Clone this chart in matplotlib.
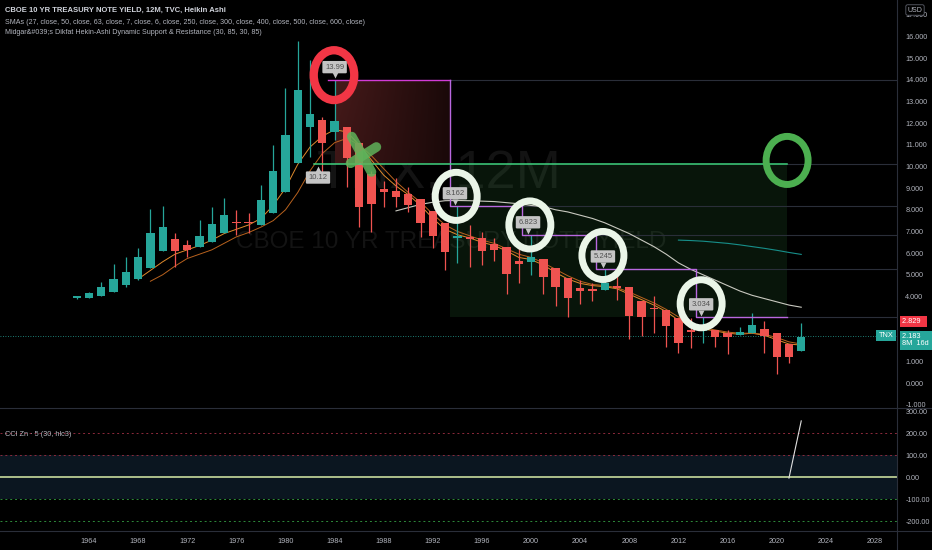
import matplotlib
matplotlib.use('Agg')
import matplotlib.pyplot as plt
from matplotlib.patches import Ellipse
from matplotlib.colors import LinearSegmentedColormap
import matplotlib.transforms as mtransforms
import numpy as np

plt.rcParams['font.family'] = ['Liberation Sans', 'DejaVu Sans']

# yearly Heikin Ashi candles (TNX, 12M)
years = list(range(1963, 2023))
opens = [3.93, 3.94, 4.02, 4.20, 4.51, 4.80, 5.31, 6.11, 6.67, 6.39,
         6.27, 6.51, 6.91, 7.38, 7.38, 7.30, 7.87, 8.84, 10.18, 11.84,
         12.15, 11.61, 11.84, 11.10, 9.65, 8.94, 8.88, 8.73, 8.49, 7.94,
         7.38, 6.71, 6.73, 6.68, 6.42, 6.30, 5.64, 5.59, 5.71, 5.30,
         4.86, 4.40, 4.33, 4.30, 4.48, 4.42, 3.79, 3.40, 3.37, 2.99,
         2.45, 2.40, 2.45, 2.29, 2.20, 2.29, 2.48, 2.32, 1.79, 1.49]
closes = [3.96, 4.16, 4.42, 4.80, 5.14, 5.80, 6.93, 7.19, 6.11, 6.14,
          6.79, 7.34, 7.75, 7.32, 7.32, 8.45, 9.81, 11.45, 13.53, 12.42,
          11.07, 12.12, 10.38, 8.14, 8.27, 8.84, 8.58, 8.22, 7.38, 6.79,
          6.04, 6.79, 6.64, 6.11, 6.14, 5.03, 5.50, 5.83, 4.88, 4.42,
          3.94, 4.25, 4.24, 4.63, 4.40, 3.11, 3.03, 3.33, 2.63, 1.83,
          2.37, 2.49, 2.11, 2.11, 2.36, 2.68, 2.17, 1.21, 1.21, 2.14]
highs = [4.00, 4.20, 4.68, 5.50, 5.83, 6.22, 8.04, 8.19, 6.91, 6.59,
         7.53, 8.13, 8.56, 7.99, 7.85, 9.15, 11.00, 13.61, 15.80, 14.92,
         12.30, 13.99, 11.84, 11.10, 9.80, 9.35, 9.46, 9.07, 8.49, 7.94,
         7.38, 8.162, 7.30, 6.99, 6.70, 6.30, 6.40, 6.823, 5.71, 5.30,
         4.86, 4.75, 4.60, 5.245, 5.14, 4.42, 3.79, 4.00, 3.37, 2.99,
         3.00, 3.034, 2.45, 2.45, 2.57, 3.22, 2.85, 2.32, 1.79, 2.79]
lows = [3.88, 3.94, 4.02, 4.20, 4.42, 4.76, 5.31, 6.11, 5.37, 5.83,
        6.27, 6.51, 6.91, 6.84, 6.93, 7.30, 7.87, 8.84, 10.18, 10.45,
        9.53, 11.22, 9.07, 7.22, 6.99, 8.14, 8.14, 7.91, 6.73, 6.22,
        5.22, 5.53, 5.34, 5.45, 5.65, 4.11, 4.60, 4.99, 4.11, 3.56,
        3.06, 3.65, 3.80, 4.30, 3.83, 2.02, 2.17, 2.32, 1.68, 1.40,
        1.60, 1.86, 1.65, 1.34, 2.20, 2.29, 1.40, 0.42, 0.91, 1.49]

# moving averages
sma6_years = list(range(1968, 2023))
sma6 = [4.8, 5.2, 5.6, 5.95, 6.15, 6.35, 6.6, 6.9, 7.1, 7.3,
        7.6, 8.2, 9.0, 10.1, 10.9, 11.4, 11.7, 11.6, 11.0, 10.3,
        9.6, 9.1, 8.7, 8.2, 7.6, 7.1, 6.85, 6.7, 6.5, 6.35,
        6.1, 5.8, 5.7, 5.45, 5.1, 4.8, 4.6, 4.5, 4.45, 4.35,
        4.1, 3.85, 3.6, 3.3, 2.9, 2.65, 2.5, 2.4, 2.3, 2.25,
        2.3, 2.2, 2.0, 1.8, 1.75]
sma7_years = list(range(1969, 2023))
sma7 = [4.7, 5.0, 5.4, 5.75, 5.95, 6.15, 6.45, 6.75, 6.95, 7.2,
        7.5, 8.0, 8.8, 9.8, 10.6, 11.1, 11.3, 11.0, 10.5, 9.9,
        9.3, 8.8, 8.35, 7.8, 7.3, 7.0, 6.8, 6.6, 6.45, 6.2,
        5.95, 5.8, 5.55, 5.25, 4.95, 4.7, 4.55, 4.5, 4.4, 4.2,
        3.95, 3.7, 3.4, 3.05, 2.75, 2.55, 2.45, 2.35, 2.3, 2.3,
        2.25, 2.1, 1.9, 1.8]
sma27_years = list(range(1989, 2023))
sma27 = [7.95, 8.1, 8.25, 8.35, 8.42, 8.43, 8.42, 8.4, 8.38, 8.33,
         8.28, 8.2, 8.15, 8.0, 7.9, 7.75, 7.6, 7.4, 7.15, 6.9,
         6.6, 6.3, 5.95, 5.55, 5.25, 5.0, 4.75, 4.5, 4.25, 4.05,
         3.9, 3.75, 3.6, 3.5]
sma50_years = list(range(2012, 2023))
sma50 = [6.6, 6.58, 6.55, 6.5, 6.45, 6.38, 6.3, 6.22, 6.13, 6.03, 5.94]

# dynamic support / resistance levels
res_level = 13.99
sup_level = 10.12
res_start = 1983.5
step_x = [1993.4, 1999.3, 2005.3, 2013.4, 2020.8]
step_levels = [8.162, 6.823, 5.245, 3.034]
level_labels = ['13.99', '8.162', '6.823', '5.245', '3.034']
label_x = [1984.0, 1993.8, 1999.75, 2005.85, 2013.85]
label_levels = [13.99, 8.162, 6.823, 5.245, 3.034]
sup_label_x = 1982.65

# hand-drawn rings
ring_x = [1993.9, 1999.9, 2005.85, 2013.85]
ring_y = [8.62, 7.30, 5.89, 3.66]
red_ring = (1983.95, 14.22)
green_ring = (2020.85, 10.28)

last_price = 2.183
prev_close = 2.829

cci_years = [2021, 2022]
cci_values = [-5, 255]

year_ticks = list(range(1964, 2029, 4))
price_ticks = [-1, 0, 1, 3, 4, 5, 6, 7, 8, 9, 10, 11, 12, 13, 14, 15, 16, 17]
cci_ticks = [300, 200, 100, 0, -100, -200]

BG = '#000000'
TEAL = '#26a69a'
RED = '#ef5350'
TXT = '#b2b5be'

W, H = 932, 550
fig = plt.figure(figsize=(W / 100, H / 100), dpi=100, facecolor=BG)
ax = fig.add_axes([0, 142 / H, 897 / W, 408 / H], facecolor=BG)
ax2 = fig.add_axes([0, 19 / H, 897 / W, 123 / H], facecolor=BG)

x0 = 1964 - 89 / 12.28
x1 = 1964 + 808 / 12.28
for a in (ax, ax2):
    for s in a.spines.values():
        s.set_visible(False)

# watermark
wm = dict(color='#131313', ha='center', va='center', zorder=0)
ax.text(1992.5, (383 - 174) / 21.65, 'TNX, 12M', fontsize=39, **wm)
ax.text(1993.5, (383 - 242) / 21.65, 'CBOE 10 YR TREASURY NOTE YIELD', fontsize=17.5, **wm)

# red resistance zone with gradient
red_cmap = LinearSegmentedColormap.from_list('r', ['#1a0909', '#461a1a'])
grad = np.linspace(1, 0, 60)[None, :] * np.linspace(0.8, 1, 20)[:, None]
ax.imshow(grad, cmap=red_cmap, extent=[res_start + 0.5, step_x[0], sup_level, res_level],
          aspect='auto', origin='lower', zorder=1, vmin=0, vmax=1)

# green support zone
ax.fill_between([step_x[0], step_x[-1]], step_levels[-1], sup_level,
                color='#3d9a4a', alpha=0.14, lw=0, zorder=1)

# gray level extensions
ext_starts = [step_x[0], step_x[-1]] + step_x[1:]
ext_levels = [res_level, sup_level] + step_levels
for xs, lv in zip(ext_starts, ext_levels):
    ax.plot([xs, x1], [lv, lv], color='#2a2e39', lw=0.8, zorder=1)

# current price dotted line
ax.axhline(last_price, color=TEAL, lw=0.6, ls=(0, (1, 2)), zorder=1)

# SMAs
ax.plot(sma27_years, sma27, color='#c9c9c0', lw=0.8, zorder=3)
ax.plot(sma50_years, sma50, color='#178f8a', lw=0.8, zorder=3)
ax.plot(sma6_years, sma6, color='#e08a2c', lw=0.7, zorder=4)
ax.plot(sma7_years, sma7, color='#b8621e', lw=0.7, zorder=4)

# candles
o = np.array(opens)
c = np.array(closes)
colors = [TEAL if cc >= oo else RED for oo, cc in zip(o, c)]
body = np.where(np.abs(c - o) < 0.07, 0.07, c - o)
ax.vlines(years, lows, highs, colors=colors, lw=0.9, zorder=5)
ax.bar(years, body, bottom=o, width=0.68, color=colors, lw=0, zorder=5)

# support / resistance lines
sx = [res_start, step_x[0], step_x[0], step_x[1], step_x[1], step_x[2],
      step_x[2], step_x[3], step_x[3], step_x[4]]
sy = [res_level, res_level, step_levels[0], step_levels[0], step_levels[1],
      step_levels[1], step_levels[2], step_levels[2], step_levels[3], step_levels[3]]
ax.plot(sx[:2], sy[:2], color='#d13bd6', lw=1.0, zorder=6)
ax.plot(sx[1:], sy[1:], color='#b968e0', lw=1.0, zorder=6)
ax.plot([sup_label_x - 0.3, step_x[-1]], [sup_level, sup_level], color='#3fd27f', lw=1.1, zorder=6)

# green scribble
ax.plot([1985.4, 1987.0], [11.38, 9.75], color='#5fb35a', lw=7, alpha=0.85,
        solid_capstyle='round', zorder=7)
ax.plot([1987.4, 1985.3], [10.9, 10.15], color='#5fb35a', lw=7, alpha=0.85,
        solid_capstyle='round', zorder=7)

# callout labels
box = dict(boxstyle='round,pad=0.35,rounding_size=0.15', fc='#c4c4c4', ec='none')
for lx, lv, lt in zip(label_x, label_levels, level_labels):
    ax.plot(lx, lv + 0.22, marker='v', ms=4.5, color='#c4c4c4', mec='none', zorder=9)
    ax.text(lx, lv + 0.6, lt, fontsize=5.5, color='#505050', ha='center', va='center',
            bbox=box, zorder=9)
ax.plot(sup_label_x, sup_level - 0.22, marker='^', ms=4.5, color='#c4c4c4', mec='none', zorder=9)
ax.text(sup_label_x, sup_level - 0.63, '10.12', fontsize=5.5, color='#505050', ha='center',
        va='center', bbox=box, zorder=9)

# rings
for rx, ry in zip(ring_x, ring_y):
    ax.add_patch(Ellipse((rx, ry), 3.42, 2.22, fill=False, ec='#eaf5e8', lw=5, zorder=8))
ax.add_patch(Ellipse(red_ring, 3.3, 2.3, fill=False, ec='#f23645', lw=6, zorder=8))
ax.add_patch(Ellipse(green_ring, 3.42, 2.22, fill=False, ec='#4caf50', lw=5, zorder=8))

ax.set_xlim(x0, x1)
ax.set_ylim(-25 / 21.65, 383 / 21.65)
ax2.set_xlim(x0, x1)
ax2.set_ylim(-54 / 22 * 100, 69 / 22 * 100)

# price scale
ax.yaxis.tick_right()
ax.set_yticks(price_ticks)
ax.set_yticklabels(['%.3f' % v for v in price_ticks])
ax.tick_params(axis='y', length=0, pad=6, labelsize=5.2, labelcolor=TXT)
ax.set_xticks([])

tr = mtransforms.blended_transform_factory(ax.transAxes, ax.transData)
ax.text(1.006, prev_close, '2.829  ', transform=tr, fontsize=5.3, color='white', va='center',
        ha='left', bbox=dict(boxstyle='square,pad=0.3', fc='#f23645', ec='none'), clip_on=False, zorder=10)
ax.text(1.006, last_price - 0.2, '2.183     \n8M  16d', transform=tr, fontsize=5.3, color='white',
        va='center', ha='left', linespacing=1.1,
        bbox=dict(boxstyle='square,pad=0.3', fc=TEAL, ec='none'), clip_on=False, zorder=10)
ax.text(0.996, last_price, 'TNX', transform=tr, fontsize=5.3, color='white', va='center', ha='right',
        bbox=dict(boxstyle='square,pad=0.3', fc=TEAL, ec='none'), clip_on=False, zorder=10)

# CCI pane
ax2.axhspan(-100, 100, color='#0b1620', lw=0, zorder=0)
ax2.axhline(200, color='#8e2a3c', lw=0.7, ls=(0, (2, 3)))
ax2.axhline(100, color='#8e2a3c', lw=0.7, ls=(0, (2, 3)))
ax2.axhline(-100, color='#2e8b3a', lw=0.7, ls=(0, (2, 3)))
ax2.axhline(-200, color='#2e8b3a', lw=0.7, ls=(0, (2, 3)))
ax2.axhline(0, color='#c8dc9c', lw=1.2)
ax2.plot(cci_years, cci_values, color='#e0e0e0', lw=0.8)
ax2.yaxis.tick_right()
ax2.set_yticks(cci_ticks)
ax2.set_yticklabels(['%.2f' % v for v in cci_ticks])
ax2.tick_params(axis='y', length=0, pad=6, labelsize=5.2, labelcolor=TXT)
ax2.set_xticks(year_ticks)
ax2.set_xticklabels([str(y) for y in year_ticks])
ax2.tick_params(axis='x', length=0, pad=5, labelsize=5.2, labelcolor=TXT)
ax2.text(5 / 897, (550 - 435 - 19) / 123, 'CCI Zn \u00b7 5 (30, hlc3)', transform=ax2.transAxes,
         fontsize=5.3, color=TXT, va='center')

# pane separators
for yy in (408, 531):
    fig.add_artist(plt.Line2D([0, 1], [1 - yy / H, 1 - yy / H], color='#2a2e39', lw=0.8))
fig.add_artist(plt.Line2D([897 / W, 897 / W], [0, 1], color='#2a2e39', lw=0.8))

# header
fig.text(5 / W, 1 - 10 / H, 'CBOE 10 YR TREASURY NOTE YIELD, 12M, TVC, Heikin Ashi',
         fontsize=5.5, color='#d1d4dc', weight='bold', va='center')
fig.text(5 / W, 1 - 22 / H,
         'SMAs (27, close, 50, close, 63, close, 7, close, 6, close, 250, close, 300, close, '
         '400, close, 500, close, 600, close)', fontsize=5.1, color=TXT, va='center')
fig.text(5 / W, 1 - 33 / H,
         'Midgar&#039;s Dikfat Hekin-Ashi Dynamic Support & Resistance (30, 85, 30, 85)',
         fontsize=5.1, color=TXT, va='center')
fig.text(915 / W, 1 - 10 / H, 'USD', fontsize=5, color=TXT, ha='center', va='center',
         bbox=dict(boxstyle='round,pad=0.25', fc=BG, ec='#5d606b', lw=0.6))

fig.savefig('out.png', dpi=100, facecolor=BG)
